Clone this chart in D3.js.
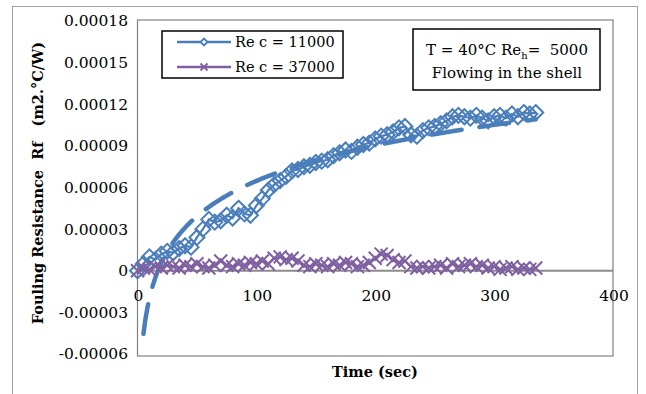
<!DOCTYPE html>
<html><head><meta charset="utf-8">
<script src="https://cdn.jsdelivr.net/npm/d3@7"></script>
<style>body{margin:0;background:#fff} svg{display:block} text{font-family:"DejaVu Serif",serif}</style>
</head><body><svg id="c" width="646" height="394"></svg>
<script>
const timeSec = [0,5,10,15,20,25,30,35,40,45,50,55,60,65,70,75,80,85,90,95,100,105,110,115,120,125,130,135,140,145,150,155,160,165,170,175,180,185,190,195,200,205,210,215,220,225,230,235,240,245,250,255,260,265,270,275,280,285,290,295,300,305,310,315,320,325,330,335];
const rfRe11000 = [0,0.000005,0.000010,0.000008,0.000012,0.000014,0.000013,0.000016,0.000018,0.000017,0.000024,0.000030,0.000037,0.000035,0.000036,0.000040,0.000038,0.000045,0.000041,0.000040,0.000047,0.000052,0.000058,0.000062,0.000065,0.000068,0.000072,0.000073,0.000075,0.000076,0.000078,0.000079,0.000080,0.000083,0.000085,0.000087,0.000086,0.000089,0.000091,0.000092,0.000095,0.000097,0.000098,0.000100,0.000103,0.000104,0.000098,0.000097,0.000101,0.000103,0.000104,0.000106,0.000108,0.000111,0.000112,0.000111,0.000110,0.000112,0.000110,0.000108,0.000111,0.000112,0.000110,0.000113,0.000111,0.000114,0.000113,0.000114];
const rfRe37000 = [0,0.000002,0.000001,0.000003,0.000002,0.000004,0.000003,0.000002,0.000004,0.000003,0.000005,0.000003,0.000002,0.000004,0.000007,0.000004,0.000003,0.000005,0.000004,0.000006,0.000005,0.000007,0.000005,0.000009,0.000010,0.000008,0.000009,0.000007,0.000004,0.000003,0.000005,0.000004,0.000003,0.000005,0.000004,0.000006,0.000005,0.000003,0.000004,0.000006,0.000009,0.000012,0.000011,0.000008,0.000006,0.000007,0.000003,0.000002,0.000003,0.000002,0.000003,0.000004,0.000002,0.000005,0.000003,0.000004,0.000005,0.000003,0.000004,0.000002,0.000003,0.000001,0.000002,0.000003,0.000001,0.000002,0.000001,0.000002];
const xTicks = [0,100,200,300,400];
const yTicks = [-0.00006,-0.00003,0,0.00003,0.00006,0.00009,0.00012,0.00015,0.00018];
const yTickLabels = ["-0.00006","-0.00003","0","0.00003","0.00006","0.00009","0.00012","0.00015","0.00018"];
const seriesNames = ["Re c = 11000","Re c = 37000"];
const blue = "#4a7ebb", purple = "#7f60a0";

const svg = d3.select("#c");
const x = d3.scaleLinear().domain([0,400]).range([137.5,613]);
const y = d3.scaleLinear().domain([-0.00006,0.00018]).range([354,21]);
const plot = {x0:137.5, x1:613, y0:20, y1:356};

svg.append("rect").attr("x",12.5).attr("y",6.5).attr("width",625).attr("height",400)
  .attr("fill","none").attr("stroke","#a0a0a0").attr("stroke-width",1);
svg.append("rect").attr("x",plot.x0).attr("y",plot.y0).attr("width",plot.x1-plot.x0).attr("height",plot.y1-plot.y0)
  .attr("fill","none").attr("stroke","#808080").attr("stroke-width",1.2);

svg.append("defs").append("clipPath").attr("id","pc").append("rect")
  .attr("x",plot.x0).attr("y",plot.y0).attr("width",plot.x1-plot.x0).attr("height",plot.y1-plot.y0);

svg.append("g").selectAll("text").data(yTicks).join("text")
  .attr("x",128).attr("y",d=>y(d)).attr("dy","0.35em").attr("text-anchor","end")
  .attr("font-size",15.5).attr("fill","#000").text((d,i)=>yTickLabels[i]);

svg.append("line").attr("x1",plot.x0).attr("x2",plot.x1).attr("y1",y(0)).attr("y2",y(0))
  .attr("stroke","#8c8c8c").attr("stroke-width",2);
svg.append("g").selectAll("text").data(xTicks).join("text")
  .attr("x",d=>x(d)+1).attr("y",y(0)+30).attr("text-anchor","middle")
  .attr("font-size",15.5).attr("fill","#000").text(d=>d);

const pts1 = timeSec.map((t,i)=>[t,rfRe11000[i]]);
const pts2 = timeSec.map((t,i)=>[t,rfRe37000[i]]);
const line = d3.line().x(d=>x(d[0])).y(d=>y(d[1]));
const g = svg.append("g");
g.append("path").attr("d",line(pts1)).attr("fill","none").attr("stroke",blue).attr("stroke-width",2.2);
const diamond = r=>`M0,${-r}L${r},0L0,${r}L${-r},0Z`;
const cross = r=>`M${-r},${-r}L${r},${r}M${-r},${r}L${r},${-r}`;
g.selectAll("path.d").data(pts1).join("path").attr("class","d")
  .attr("transform",d=>`translate(${x(d[0])},${y(d[1])})`).attr("d",diamond(7.5))
  .attr("fill","none").attr("stroke",blue).attr("stroke-width",2);

// logarithmic trendline fitted to Re c = 11000 data (x>0)
const fitPts = pts1.filter(d=>d[0]>0);
const lx = fitPts.map(d=>Math.log(d[0])), ly = fitPts.map(d=>d[1]);
const mx = d3.mean(lx), my = d3.mean(ly);
const a = d3.sum(lx.map((v,i)=>(v-mx)*(ly[i]-my)))/d3.sum(lx.map(v=>(v-mx)*(v-mx)));
const b = my - a*mx;
const tStart = fitPts[0][0], tEnd = fitPts[fitPts.length-1][0];
const trend = d3.range(0,201).map(k=>{const t=tStart+(tEnd-tStart)*k/200;return [t,a*Math.log(t)+b];});
svg.append("path").attr("clip-path","url(#pc)").attr("d",line(trend)).attr("fill","none")
  .attr("stroke",blue).attr("stroke-width",4.5).attr("stroke-linecap","round").attr("stroke-dasharray","30,18");

const g2 = svg.append("g");
g2.append("path").attr("d",line(pts2)).attr("fill","none").attr("stroke",purple).attr("stroke-width",2.2);
g2.selectAll("path.x").data(pts2).join("path").attr("class","x")
  .attr("transform",d=>`translate(${x(d[0])},${y(d[1])})`).attr("d",cross(6.5))
  .attr("fill","none").attr("stroke",purple).attr("stroke-width",2);

svg.append("text").attr("transform","translate(43,183) rotate(-90)").attr("text-anchor","middle")
  .attr("font-size",14.5).attr("font-weight","bold").attr("xml:space","preserve").style("white-space","pre")
  .text("Fouling Resistance  Rf   (m2.°C/W)");
svg.append("text").attr("x",375).attr("y",377).attr("text-anchor","middle")
  .attr("font-size",14.5).attr("font-weight","bold").text("Time (sec)");

const lg = svg.append("g");
lg.append("rect").attr("x",162).attr("y",31).attr("width",181).attr("height",47)
  .attr("fill","#fff").attr("stroke","#000").attr("stroke-width",1.5);
[[blue,42,"d"],[purple,67,"x"]].forEach(([c,yy,m],i)=>{
  lg.append("line").attr("x1",177).attr("x2",231).attr("y1",yy).attr("y2",yy).attr("stroke",c).attr("stroke-width",2.5);
  lg.append("path").attr("transform",`translate(204,${yy})`).attr("d",m==="d"?diamond(3.5):cross(3.5))
    .attr("fill",m==="d"?"#fff":"none").attr("stroke",c).attr("stroke-width",1.8);
  lg.append("text").attr("x",235).attr("y",yy).attr("dy","0.35em").attr("font-size",14.5).text(seriesNames[i]);
});

const an = svg.append("g");
an.append("rect").attr("x",413).attr("y",29).attr("width",187).attr("height",61)
  .attr("fill","#fff").attr("stroke","#000").attr("stroke-width",1.5);
const t1 = an.append("text").attr("x",507).attr("y",55).attr("text-anchor","middle").attr("font-size",15).style("white-space","pre");
t1.append("tspan").text("T = 40°C Re");
t1.append("tspan").attr("font-size",10).attr("dy",4).text("h");
t1.append("tspan").attr("dy",-4).text("=  5000");
an.append("text").attr("x",507).attr("y",78).attr("text-anchor","middle").attr("font-size",15).text("Flowing in the shell");
</script></body></html>
